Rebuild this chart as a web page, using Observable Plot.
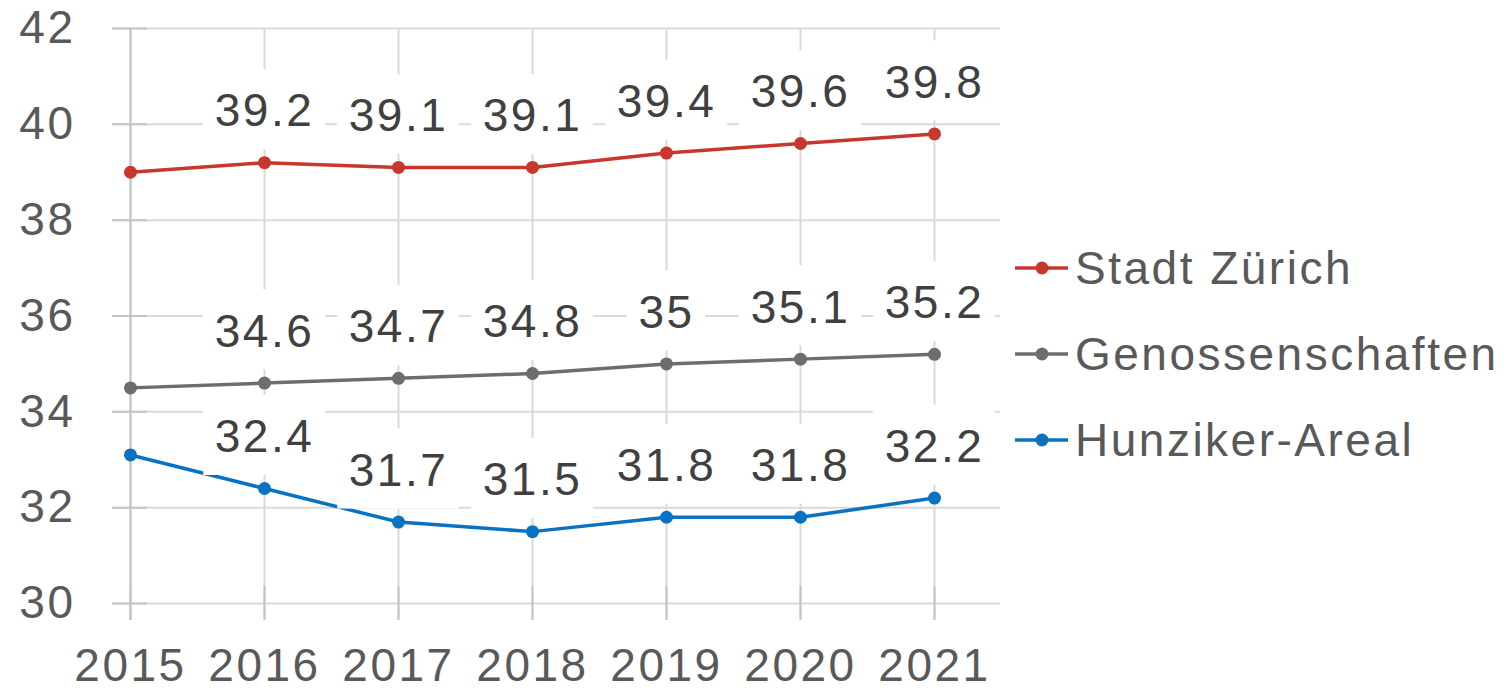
<!DOCTYPE html>
<html>
<head>
<meta charset="utf-8">
<script src="https://cdn.jsdelivr.net/npm/d3@7"></script>
<script src="https://cdn.jsdelivr.net/npm/@observablehq/plot@0.6"></script>
<style>
  html, body { margin: 0; padding: 0; background: #fff; }
  #wrap { position: relative; width: 1509px; height: 695px; font-family: "Liberation Sans", Arial, sans-serif; }
  #wrap svg text { letter-spacing: 2.5px; }
  #legend { position: absolute; left: 1015px; top: 225px; }
  .row { display: flex; align-items: center; height: 86px; font-size: 46px; color: #595959; letter-spacing: 2.5px; }
  .row svg { margin-right: 7px; }
</style>
</head>
<body>
<div id="wrap"></div>
<script>
const years = [2015, 2016, 2017, 2018, 2019, 2020, 2021];
const stadtZuerich = [39.0, 39.2, 39.1, 39.1, 39.4, 39.6, 39.8];
const genossenschaften = [34.5, 34.6, 34.7, 34.8, 35.0, 35.1, 35.2];
const hunzikerAreal = [33.1, 32.4, 31.7, 31.5, 31.8, 31.8, 32.2];
const seriesNames = ["Stadt Zürich", "Genossenschaften", "Hunziker-Areal"];
const seriesColors = ["#C8372D", "#6B6E70", "#0A72C2"];
const yTicks = [30, 32, 34, 36, 38, 40, 42];

const seriesValues = [stadtZuerich, genossenschaften, hunzikerAreal];
const data = [];
seriesNames.forEach((name, i) => {
  years.forEach((yr, j) => data.push({series: name, year: yr, value: seriesValues[i][j], idx: j}));
});
const labelData = data.filter(d => d.idx > 0);

const W = 1509, H = 695, mL = 112, mR = 509, mT = 28, mB = 92;
const xmin = 2015 - 18 / 134, xmax = 2021 + 66 / 134;
const pxX = (W - mL - mR) / (xmax - xmin);
const pxY = (H - mT - mB) / (42 - 30);
const fs = 46;
const textWidth = s => [...s].reduce((a, c) => a + (c === "." ? 0.278 : 0.556) * fs + 2.5, 0);
const boxes = labelData.map(d => {
  const w = textWidth(String(d.value)) + 22;
  return {x1: d.year - w / 2 / pxX, x2: d.year + w / 2 / pxX, y1: d.value + 13 / pxY, y2: d.value + 93 / pxY};
});
const color = {domain: seriesNames, range: seriesColors};

const chart = Plot.plot({
  width: W, height: H,
  marginLeft: mL, marginRight: mR, marginTop: mT, marginBottom: mB,
  style: {fontFamily: '"Liberation Sans", Arial, sans-serif', fontSize: fs + "px", background: "#fff"},
  x: {domain: [xmin, xmax], axis: null},
  y: {domain: [30, 42], axis: null},
  color,
  marks: [
    Plot.ruleY(yTicks, {x1: xmin, x2: xmax, stroke: "#dadada", strokeWidth: 2}),
    Plot.ruleX(years, {y1: 30 - 17 / pxY, y2: 42, stroke: "#dadada", strokeWidth: 2}),
    Plot.ruleY(yTicks, {x1: xmin, x2: 2015 + 17 / pxX, stroke: "#c4c4c4", strokeWidth: 2}),
    Plot.ruleX(years, {y1: 30 - 17 / pxY, y2: 30 + 17 / pxY, stroke: "#c4c4c4", strokeWidth: 2}),
    Plot.ruleX([2015], {y1: 30 - 17 / pxY, y2: 42, stroke: "#c4c4c4", strokeWidth: 2}),
    Plot.axisY(yTicks, {tickSize: 0, tickPadding: 37, fill: "#595959", fontSize: fs, anchor: "left"}),
    Plot.axisX(years, {tickSize: 0, tickPadding: 45, fill: "#595959", fontSize: fs, anchor: "bottom", tickFormat: d => String(d)}),
    Plot.line(data, {x: "year", y: "value", z: "series", stroke: "series", strokeWidth: 3.5}),
    Plot.rect(boxes, {x1: "x1", x2: "x2", y1: "y1", y2: "y2", fill: "white"}),
    Plot.dot(data, {x: "year", y: "value", fill: "series", r: 6.5}),
    Plot.text(labelData, {x: "year", y: "value", text: d => String(d.value), dy: -51, fill: "#404040", fontSize: fs})
  ]
});
const wrap = document.getElementById("wrap");
wrap.appendChild(chart);

const legend = document.createElement("div");
legend.id = "legend";
seriesNames.forEach((name, i) => {
  const row = document.createElement("div");
  row.className = "row";
  row.innerHTML = `<svg width="53" height="20"><line x1="0" y1="10" x2="53" y2="10" stroke="${seriesColors[i]}" stroke-width="3.5"/><circle cx="27" cy="10" r="6.5" fill="${seriesColors[i]}"/></svg><span>${name}</span>`;
  legend.appendChild(row);
});
wrap.appendChild(legend);
</script>
</body>
</html>
